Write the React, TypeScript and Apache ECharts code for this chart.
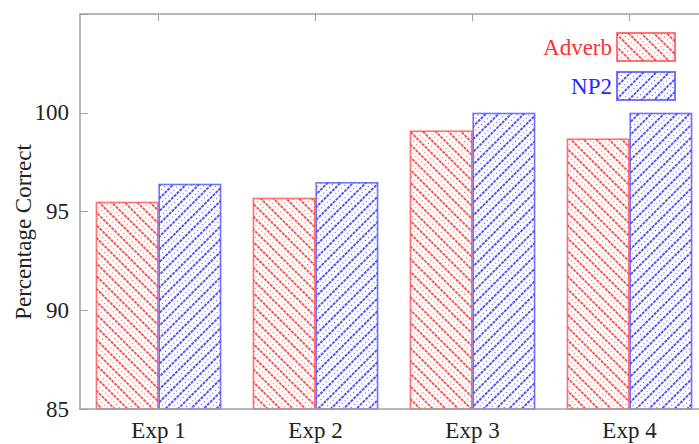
import React, { useEffect, useRef } from "react";
import * as echarts from "echarts";

const categories = ["Exp 1", "Exp 2", "Exp 3", "Exp 4"];
const adverbValues = [95.5, 95.7, 99.1, 98.7];
const np2Values = [96.4, 96.5, 100.0, 100.0];
const seriesNames = ["Adverb", "NP2"];
const yTitle = "Percentage Correct";

const RED = "rgb(255,50,50)";
const BLUE = "rgb(40,40,255)";
const FONT = '"Liberation Serif", "DejaVu Serif", serif';

export default function App() {
  const ref = useRef<HTMLDivElement>(null);
  useEffect(() => {
    if (!ref.current) return;
    const chart = echarts.init(ref.current, null, { renderer: "svg" });
    const axisColor = "#a0a0a0";
    const redBorder = "rgba(255,80,80,0.55)";
    const blueBorder = "rgba(80,80,255,0.55)";
    const redDecal = {
      symbol: "rect",
      symbolSize: 1,
      color: "rgba(255,40,40,0.8)",
      backgroundColor: null,
      dashArrayX: [[2.5, 1], [1, 2.5]],
      dashArrayY: [1.4, 2.5, 0.8, 2.3],
      rotation: Math.PI / 4,
    };
    const blueDecal = {
      symbol: "rect",
      symbolSize: 1,
      color: "rgba(40,40,255,0.8)",
      backgroundColor: null,
      dashArrayX: [[2.5, 1], [1, 2.5]],
      dashArrayY: [1.4, 2.5, 0.8, 2.3],
      rotation: -Math.PI / 4,
    };
    chart.setOption({
      animation: false,
      backgroundColor: "#ffffff",
      grid: { left: 80, top: 14, width: 628, height: 395, outerBoundsMode: "none", containLabel: false },
      legend: {
        orient: "vertical",
        right: 23,
        top: 32,
        padding: 0,
        align: "right",
        itemWidth: 58,
        itemHeight: 28,
        itemGap: 9,
        data: [
          { name: seriesNames[0], textStyle: { color: RED } },
          { name: seriesNames[1], textStyle: { color: BLUE } },
        ],
        textStyle: { fontFamily: FONT, fontSize: 23 },
        icon: "rect",
      },
      graphic: [
        {
          type: "text",
          x: 23,
          y: 232,
          rotation: Math.PI / 2,
          style: {
            text: yTitle,
            fontFamily: FONT,
            fontSize: 23,
            fill: "#222",
            align: "center",
            verticalAlign: "middle",
          },
        },
      ],
      xAxis: [
        {
          type: "category",
          data: categories,
          position: "bottom",
          axisLine: { lineStyle: { color: axisColor, width: 1.5 } },
          axisTick: { show: false },
          axisLabel: { fontFamily: FONT, fontSize: 23, color: "#222", margin: 10 },
          z: 10,
        },
        {
          type: "category",
          data: categories,
          position: "top",
          axisLine: { lineStyle: { color: axisColor, width: 1.5 } },
          axisTick: { show: true, inside: true, alignWithLabel: true, length: 7, lineStyle: { color: axisColor } },
          axisLabel: { show: false },
        },
      ],
      yAxis: {
        type: "value",
        min: 85,
        max: 105,
        interval: 5,
        axisLine: { show: true, lineStyle: { color: axisColor, width: 1.5 } },
        axisTick: { show: true, inside: true, length: 8, lineStyle: { color: axisColor } },
        splitLine: { show: false },
        axisLabel: {
          fontFamily: FONT,
          fontSize: 23,
          color: "#222",
          margin: 11,
          formatter: (v: number) => (v === 105 ? "" : String(v)),
        },
      },
      series: [
        {
          name: seriesNames[0],
          type: "bar",
          data: adverbValues,
          barGap: "0%",
          barCategoryGap: "20%",
          itemStyle: {
            color: "#ffffff",
            borderColor: redBorder,
            borderWidth: 1.5,
            decal: redDecal,
          },
        },
        {
          name: seriesNames[1],
          type: "bar",
          data: np2Values,
          barGap: "0%",
          barCategoryGap: "20%",
          itemStyle: {
            color: "#ffffff",
            borderColor: blueBorder,
            borderWidth: 1.5,
            decal: blueDecal,
          },
        },
      ],
    });
    return () => chart.dispose();
  }, []);
  return <div ref={ref} style={{ width: 699, height: 444, position: "fixed", left: 0, top: 0 }} />;
}
